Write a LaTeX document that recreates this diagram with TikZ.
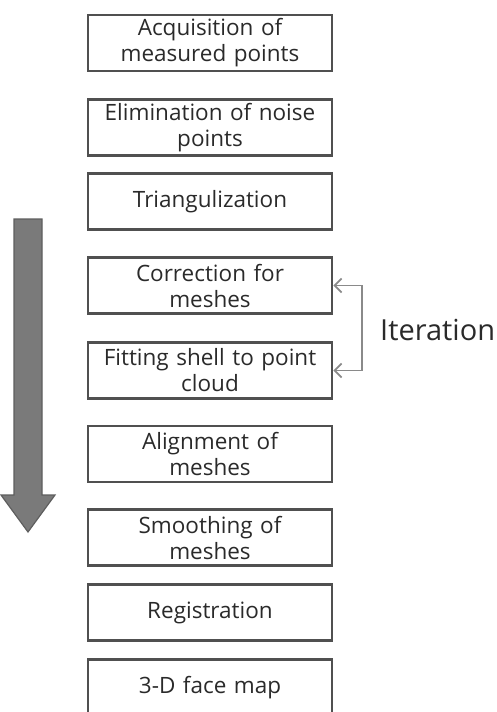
\documentclass[tikz,border=0pt]{standalone}
\usepackage{fontspec}
\setmainfont{Open Sans}
\usetikzlibrary{arrows.meta}
\definecolor{boxline}{HTML}{505050}
\definecolor{txt}{HTML}{2A2A2A}
\definecolor{arrowfill}{HTML}{7A7A7A}
\definecolor{arrowline}{HTML}{5E5E5E}
\definecolor{iterline}{HTML}{8A8A8A}
\tikzset{
  stepbox/.style={draw=boxline, line width=2.6pt, minimum width=244pt, minimum height=56pt,
    inner sep=0pt, align=center, text=txt, font=\fontsize{22.5}{26}\selectfont, text width=238pt},
  iterarrow/.style={draw=iterline, line width=1.8pt, -{Straight Barb[length=7pt,width=14pt]}}
}
\begin{document}
\begin{tikzpicture}[x=1pt,y=-1pt]
\useasboundingbox (0,0) rectangle (496,712);
\node[stepbox] (b1) at (210,43) {Acquisition of\\measured points};
\node[stepbox] (b2) at (210,127.5) {Elimination of noise\\points};
\node[stepbox] (b3) at (210,201.5) {Triangulization};
\node[stepbox] (b4) at (210,285.5) {Correction for\\meshes};
\node[stepbox] (b5) at (210,370.5) {Fitting shell to point\\cloud};
\node[stepbox] (b6) at (210,454) {Alignment of\\meshes};
\node[stepbox] (b7) at (210,537.5) {Smoothing of\\meshes};
\node[stepbox] (b8) at (210,612.5) {Registration};
\node[stepbox] (b9) at (210,687.5) {3-D face map};
\coordinate (r1) at (362,0);
\draw[iterarrow] (b5.east -| r1) -- (b4.east -| r1) -- (b4.east);
\draw[iterarrow] (b4.east -| r1) -- (b5.east -| r1) -- (b5.east);
\node[anchor=base west, text=txt, font=\fontsize{29}{32}\selectfont, inner sep=0pt] (it) at (380,340) {Iteration};
\draw[fill=arrowfill, draw=arrowline, line width=1.2pt, line join=miter]
  (14,219) -- (42,219) -- (42,495) -- (55,495) -- (28,532) -- (1,495) -- (14,495) -- cycle;
\end{tikzpicture}
\end{document}
